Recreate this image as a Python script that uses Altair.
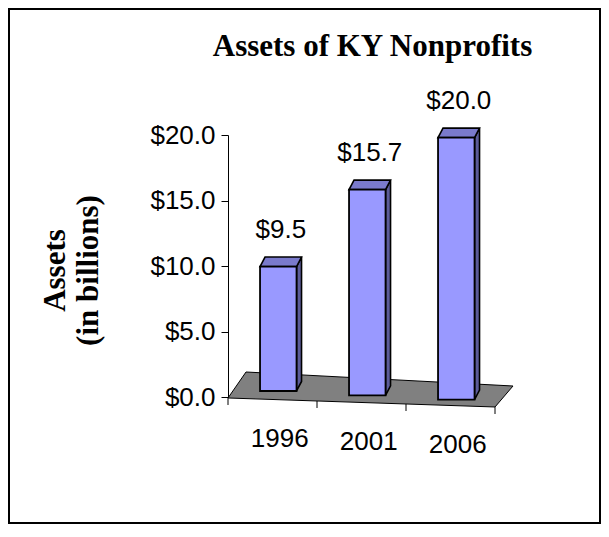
import altair as alt
import pandas as pd

# ---- data ----
years = ["1996", "2001", "2006"]
assets = [9.5, 15.7, 20.0]
y_ticks = [0, 5, 10, 15, 20]

# ---- layout / geometry (pixels) ----
W, H = 267, 262                 # plot area
PAD_L, PAD_T = 220, 127
PAD_R = 593 - PAD_L - W
PAD_B = 516 - PAD_T - H
PX_X = W / 3.0                  # px per category slot
PX_Y = H / 20.0                 # px per billion

BAR_L, BAR_R = 0.36, 0.77       # front face within slot
DDX = 5 / PX_X                  # depth offset (x)
DDY = 9.5 / PX_Y                # depth offset (y)


def base(x):                    # floor line under bars (perspective)
    return 0.645 - 0.33 * x


def front(x):                   # front edge of floor (x axis line)
    return -0.076 - 0.229 * x


# floor quadrilateral corners (data units)
LF = (0.0, front(0.0))
RF = (3.0, front(3.0))
LB = (18 / PX_X, (397 - 372) / PX_Y)
RB = (3.0 + 18 / PX_X, (397 - 386) / PX_Y)


def lerp(p, q, x):
    return p[1] + (q[1] - p[1]) * (x - p[0]) / (q[0] - p[0])


def upper(x):
    return lerp(LF, LB, x) if x <= LB[0] else lerp(LB, RB, x)


def lower(x):
    return lerp(LF, RF, x) if x <= RF[0] else lerp(RF, RB, x)


floor_xs = [LF[0], LB[0], RF[0], RB[0]]
floor_df = pd.DataFrame({"x": floor_xs,
                         "y": [upper(x) for x in floor_xs],
                         "y2": [lower(x) for x in floor_xs]})

front_rows, side_rows, top_rows, val_rows, lab_rows = [], [], [], [], []
for i, (yr, v) in enumerate(zip(years, assets)):
    xl, xr = i + BAR_L, i + BAR_R
    c = (xl + xr) / 2
    b = base(c)
    t = b + v
    front_rows.append({"x": xl, "x2": xr, "y": b, "y2": t})
    side_rows += [{"id": i, "x": xr, "y": t, "y2": b},
                  {"id": i, "x": xr + DDX, "y": t + DDY, "y2": b + DDY}]
    top_rows += [{"id": i, "x": xl, "y": t, "y2": t},
                 {"id": i, "x": xl + DDX, "y": t + DDY, "y2": t},
                 {"id": i, "x": xr, "y": t + DDY, "y2": t},
                 {"id": i, "x": xr + DDX, "y": t + DDY, "y2": t + DDY}]
    val_rows.append({"x": c + DDX / 2, "y": t, "v": v})
    lab_rows.append({"x": c + 1.5 / PX_X, "y": front(c), "year": yr})

tick_df = pd.DataFrame({"x": [0, 1, 2, 3],
                        "y": [front(k) for k in range(4)],
                        "y2": [front(k) - 7 / PX_Y for k in range(4)]})

xs = alt.Scale(domain=[0, 3], nice=False, zero=False)
ys = alt.Scale(domain=[0, 20], nice=False, zero=False)

y_axis = alt.Axis(values=y_ticks, format="$.1f", grid=False,
                  labelFont="Liberation Sans", labelFontSize=26,
                  labelColor="black", labelPadding=6, labelFlush=False,
                  labelOverlap=False, tickSize=7, tickColor="black",
                  domainColor="black",
                  title=["Assets", "(in billions)"],
                  titleFont="Liberation Serif", titleFontSize=31,
                  titleFontWeight="bold", titleColor="black",
                  titleAngle=270, titleX=-164, titleY=135,
                  titleAlign="center", titleBaseline="alphabetic",
                  titleLineHeight=33)


def X(f="x"):
    return alt.X(f"{f}:Q", scale=xs, axis=None)


def Y(f="y"):
    return alt.Y(f"{f}:Q", scale=ys, axis=y_axis)


frame = alt.Chart(pd.DataFrame({"k": [0]})).mark_rect(
    filled=False, stroke="black", strokeWidth=2).encode(
    x=alt.value(-PAD_L + 1), x2=alt.value(W + PAD_R - 1),
    y=alt.value(-PAD_T + 1), y2=alt.value(H + PAD_B - 1))

floor = alt.Chart(floor_df).mark_area(
    fill="#808080", stroke="black", strokeWidth=1, opacity=1).encode(
    x=X(), y=Y(), y2="y2:Q")

ticks = alt.Chart(tick_df).mark_rule(color="black", strokeWidth=1).encode(
    x=X(), y=Y(), y2="y2:Q")

side = alt.Chart(pd.DataFrame(side_rows)).mark_area(
    fill="#5c5c99", stroke="black", strokeWidth=1.6, opacity=1,
    strokeJoin="miter").encode(x=X(), y=Y(), y2="y2:Q", detail="id:N")

top = alt.Chart(pd.DataFrame(top_rows)).mark_area(
    fill="#7a7acc", stroke="black", strokeWidth=1.6, opacity=1,
    strokeJoin="miter").encode(x=X(), y=Y(), y2="y2:Q", detail="id:N")

front_face = alt.Chart(pd.DataFrame(front_rows)).mark_rect(
    fill="#9999ff", stroke="black", strokeWidth=1.8).encode(
    x=X(), x2="x2:Q", y=Y(), y2="y2:Q")

values = alt.Chart(pd.DataFrame(val_rows)).mark_text(
    font="Liberation Sans", fontSize=26, color="black", dy=-29,
    align="center", baseline="alphabetic").encode(
    x=X(), y=Y(), text=alt.Text("v:Q", format="$.1f"))

labels = alt.Chart(pd.DataFrame(lab_rows)).mark_text(
    font="Liberation Sans", fontSize=26, color="black", dy=47,
    align="center", baseline="alphabetic").encode(
    x=X(), y=Y(), text="year:N")

chart = alt.layer(frame, floor, ticks, side, top, front_face, values, labels).properties(
    width=W, height=H, background="white",
    padding={"left": PAD_L, "top": PAD_T, "right": PAD_R, "bottom": PAD_B},
    autosize=alt.AutoSizeParams(type="none"),
    title=alt.TitleParams("Assets of KY Nonprofits", font="Liberation Serif",
                          fontSize=31, fontWeight="bold", color="black",
                          anchor="middle", dx=11, offset=-55),
).configure_view(stroke="transparent", strokeWidth=0)

chart.save("out.html", embed_options={"renderer": "svg", "actions": False})
